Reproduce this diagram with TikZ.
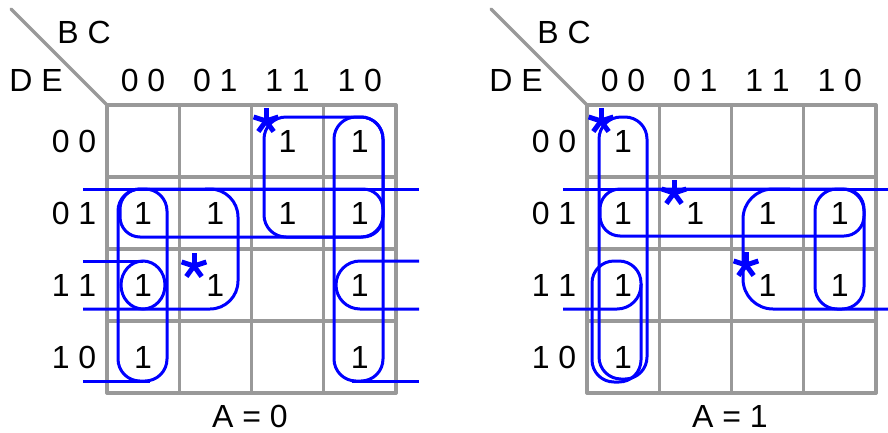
\documentclass[tikz,border=0pt]{standalone}
\usepackage{fontspec}
\setmainfont{Liberation Sans}

\definecolor{gridgray}{RGB}{153,153,153}
\definecolor{loopblue}{RGB}{0,0,255}

\tikzset{
    grid line/.style={draw=gridgray, line width=3.3pt, line cap=round},
    loop line/.style={draw=loopblue, line width=3pt},
    txt/.style={inner sep=0pt, font=\fontsize{32}{36}\selectfont},
}
% essential cell mark
\newcommand{\essmark}[1]{\foreach \a in {270,342,54,126,198} \draw[loop line, line width=5pt] (#1) -- ++(\a:13);}

\begin{document}
\begin{tikzpicture}[x=1pt,y=-1pt]
    \useasboundingbox (0,0) rectangle (888,432);

    % the two maps
    \foreach \m/\dx in {0/0, 1/480} {
        \begin{scope}[xshift=\dx]
            \foreach \i in {0,...,4} {
                \draw[grid line] ({107+72.25*\i},105) -- ({107+72.25*\i},393);
                \draw[grid line] (107,{105+72*\i}) -- (396,{105+72*\i});
            }
            \draw[grid line] (11,9) -- (107,105);
            \node[txt] (bc\m) at (84,32) {B C};
            \node[txt] (de\m) at (36,80) {D E};
            \foreach \lab [count=\i from 0] in {0 0, 0 1, 1 1, 1 0} {
                \node[txt] (top\m\i) at ({143+72.25*\i},80) {\lab};
                \node[txt] (side\m\i) at (74,{141+72*\i}) {\lab};
            }
            \node[txt] (amap\m) at (250,416) {A = \m};
        \end{scope}
    }

    % A = 0
    \foreach \c/\r in {2/0, 3/0, 0/1, 1/1, 2/1, 3/1, 0/2, 1/2, 3/2, 0/3, 3/3}
        \node[txt] (a\c\r) at ({143+72.25*\c},{141+72*\r}) {1};

    \draw[loop line] (83,189) -- (419,189);
    \draw[loop line] (83,261) -- (143,261);
    \draw[loop line] (83,381) -- (150,381);
    \draw[loop line] (352,381) -- (419,381);
    \draw[loop line, rounded corners=20] (120,189) rectangle (383,237);
    \draw[loop line, rounded corners=22] (118,189) rectangle (167,381);
    \draw[loop line] (143,285) ellipse [x radius=22, y radius=24];
    \draw[loop line, rounded corners=28] (83,309) -- (238,309) -- (238,189) -- (205,189);
    \draw[loop line, rounded corners=22] (264,117) rectangle (383,237);
    \draw[loop line, rounded corners=22] (334,117) rectangle (383,381);
    \draw[loop line, rounded corners=24] (419,261) -- (336,261) -- (336,309) -- (419,309);
    \essmark{266,121}
    \essmark{194,266}

    % A = 1
    \foreach \c/\r in {0/0, 0/1, 1/1, 2/1, 3/1, 0/2, 2/2, 3/2, 0/3}
        \node[txt] (b\c\r) at ({623+72.25*\c},{141+72*\r}) {1};

    \draw[loop line] (563,189) -- (888,189);
    \draw[loop line, rounded corners=20] (600,189) rectangle (864,236);
    \draw[loop line, rounded corners=22] (599,117) rectangle (647,379);
    \draw[loop line, rounded corners=22] (592,261) rectangle (641,382);
    \draw[loop line, rounded corners=24] (563,309) -- (641,309) -- (641,284);
    \draw[loop line, rounded corners=30] (888,309) -- (743,309) -- (743,189) -- (790,189);
    \draw[loop line, rounded corners=22] (815,189) rectangle (864,309);
    \essmark{601,121}
    \essmark{674,193}
    \essmark{746,265}
\end{tikzpicture}
\end{document}
